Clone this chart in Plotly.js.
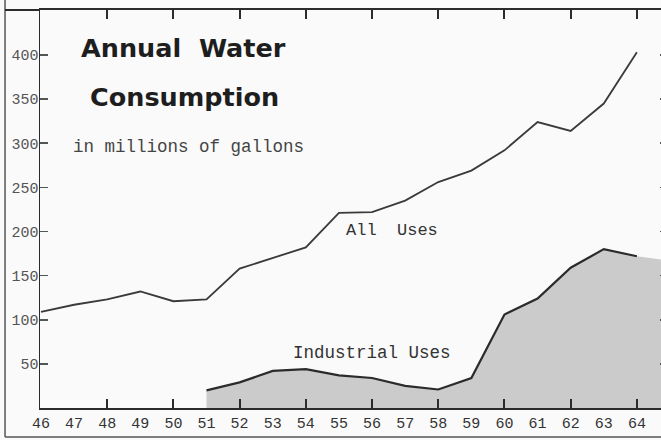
<!DOCTYPE html>
<html>
<head>
<meta charset="utf-8">
<script src="https://cdn.plot.ly/plotly-3.0.1.min.js"></script>
<style>
html,body{margin:0;padding:0;overflow:hidden;background:#fafafa;}
#chart{width:668px;height:440px;}
</style>
</head>
<body>
<div id="chart"></div>
<script>
// Years (19xx)
const years = [46,47,48,49,50,51,52,53,54,55,56,57,58,59,60,61,62,63,64];
// All uses, millions of gallons
const allUses = [109,117,123,132,121,123,158,170,182,221,222,235,256,269,292,324,314,345,403];
// Industrial uses (from 1951)
const industrialYears = [51,52,53,54,55,56,57,58,59,60,61,62,63,64];
const industrialUses = [20,29,42,44,37,34,25,21,34,106,124,159,180,172];
// Shaded area continues past 1964 at the right edge of the scan
const industrialTailYears = [65];
const industrialTailValues = [167];
// Tick labels
const yTickVals = [50,100,150,200,250,300,350,400];
const yTickText = ["50","100","150","200","250","300","350","400"];

const ink = '#2b2b2b';
const mono = 'Liberation Mono, Courier New, monospace';

const traces = [
  {
    x: industrialYears.concat(industrialTailYears),
    y: industrialUses.concat(industrialTailValues),
    type: 'scatter', mode: 'lines', fill: 'tozeroy',
    fillcolor: '#cbcbcb', line: {width: 0, color: 'rgba(0,0,0,0)'},
    xaxis: 'x', yaxis: 'y', hoverinfo: 'skip', showlegend: false
  },
  {
    x: industrialYears, y: industrialUses,
    type: 'scatter', mode: 'lines', line: {color: ink, width: 2.2},
    xaxis: 'x2', yaxis: 'y', showlegend: false
  },
  {
    x: years, y: allUses,
    type: 'scatter', mode: 'lines', line: {color: '#3a3a3a', width: 1.8},
    xaxis: 'x2', yaxis: 'y', showlegend: false
  }
];

const xr = [45.97, 64.94];
const yr = [0, 451];

const layout = {
  width: 668, height: 440,
  margin: {l: 40, r: 0, t: 10, b: 32},
  paper_bgcolor: '#fafafa', plot_bgcolor: '#fafafa',
  showlegend: false,
  xaxis: {
    range: xr, dtick: 2, tick0: 46, showticklabels: false,
    ticks: 'inside', ticklen: 9, tickwidth: 2, tickcolor: ink,
    showline: true, linecolor: ink, linewidth: 2, mirror: 'ticks',
    showgrid: false, zeroline: false, fixedrange: true
  },
  xaxis2: {
    range: xr, overlaying: 'x', anchor: 'y', side: 'bottom',
    tickmode: 'array', tickvals: years, ticktext: years.map(String),
    ticks: '', showline: false, showgrid: false, zeroline: false,
    tickfont: {family: mono, size: 15, color: '#333'},
    ticklabelstandoff: 4, fixedrange: true
  },
  yaxis: {
    range: yr, tickmode: 'array', tickvals: yTickVals, ticktext: yTickText,
    ticks: 'inside', ticklen: 8, tickwidth: 1.6, tickcolor: '#555',
    showline: true, linecolor: ink, linewidth: 1.5, mirror: 'ticks',
    showgrid: false, zeroline: false,
    tickfont: {family: mono, size: 15, color: '#555'},
    ticklabelstandoff: -3, fixedrange: true
  },
  shapes: [
    {type: 'line', xref: 'paper', yref: 'paper', x0: -0.0557, x1: -0.0557, y0: -0.073, y1: 1.03, line: {color: '#555', width: 1.5}},
    {type: 'line', xref: 'paper', yref: 'paper', x0: -0.0557, x1: 1.02, y0: -0.073, y1: -0.073, line: {color: '#555', width: 1.5}},
    {type: 'line', xref: 'paper', yref: 'paper', x0: -0.0557, x1: 0, y0: 1, y1: 1, line: {color: ink, width: 2}}
  ],
  annotations: [
    {text: 'Annual  Water', xref: 'paper', yref: 'paper', x: 0.2285, y: 0.9045, xanchor: 'center', yanchor: 'middle', showarrow: false,
     font: {family: 'DejaVu Sans, sans-serif', size: 25.5, color: '#1e1e1e', weight: 'bold'}},
    {text: 'Consumption', xref: 'paper', yref: 'paper', x: 0.2293, y: 0.781, xanchor: 'center', yanchor: 'middle', showarrow: false,
     font: {family: 'DejaVu Sans, sans-serif', size: 25.5, color: '#1e1e1e', weight: 'bold'}},
    {text: 'in millions of gallons', xref: 'paper', yref: 'paper', x: 0.237, y: 0.656, xanchor: 'center', yanchor: 'middle', showarrow: false,
     font: {family: mono, size: 17.5, color: '#444'}},
    {text: 'All  Uses', xref: 'paper', yref: 'paper', x: 0.5605, y: 0.447, xanchor: 'center', yanchor: 'middle', showarrow: false,
     font: {family: mono, size: 17, color: '#333'}},
    {text: 'Industrial Uses', xref: 'paper', yref: 'paper', x: 0.528, y: 0.138, xanchor: 'center', yanchor: 'middle', showarrow: false,
     font: {family: mono, size: 17.5, color: '#333'}}
  ]
};

Plotly.newPlot('chart', traces, layout, {staticPlot: true, displayModeBar: false});
</script>
</body>
</html>
